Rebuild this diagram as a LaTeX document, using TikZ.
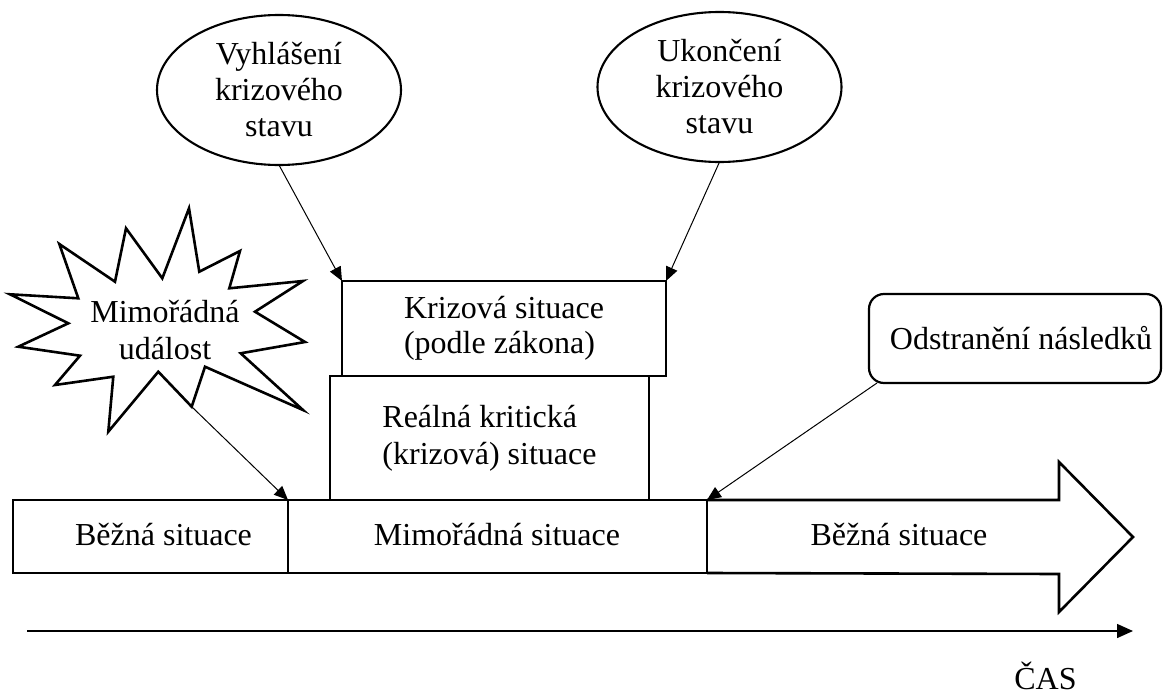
\documentclass[tikz,border=0pt]{standalone}
\usepackage{fontspec}
\setmainfont{Liberation Serif}
\usetikzlibrary{arrows.meta,shapes.geometric,calc}
\begin{document}
\begin{tikzpicture}[x=1pt,y=-1pt,
  every node/.style={font=\fontsize{32}{36}\selectfont, inner sep=0pt, outer sep=0pt},
  box/.style={draw, line width=2.6pt, rectangle},
  oval/.style={draw, ellipse, line width=2.1pt, minimum width=244pt, minimum height=150pt, align=center},
  conn/.style={line width=1pt, -{Triangle[length=14pt,width=12pt]}},
  thickline/.style={line width=2.6pt, line join=miter},
]
\useasboundingbox (0,0) rectangle (1163,696);

% ellipses
\node[oval] (e1) at (279,90) {Vyhlášení\\krizového\\stavu};
\node[oval] (e2) at (719.5,87) {Ukončení\\krizového\\stavu};

% stacked boxes
\node[box, minimum width=324pt, minimum height=95pt, align=left,
      font=\fontsize{32}{35}\selectfont] (k) at (504,328.5) {Krizová situace\\(podle zákona)};
\node[box, minimum width=319pt, minimum height=124pt, align=left,
      font=\fontsize{32}{37}\selectfont] (r) at (489.5,438) {Reálná kritická\\(krizová) situace};

% bottom band
\node[box, minimum width=275pt, minimum height=73pt] (b1) at (150.5,536.5) {};
\node[box, minimum width=419pt, minimum height=73pt] (b2) at (497.5,536.5) {};
\draw[thickline] (b2.north east) -- (1059,500) -- (1059,462) -- (1133,537)
  -- (1059,612) -- (1059,574) -- (b2.south east);
\node[anchor=base] (t1) at (163.5,545) {Běžná situace};
\node[anchor=base] (t2) at (497,545) {Mimořádná situace};
\node[anchor=base] (t3) at (899,545) {Běžná situace};

% starburst
\draw[thickline] (189,208.3) -- (199.3,271.7) -- (240,251) -- (229.3,288.3)
  -- (303,281) -- (255,311.7) -- (305,342) -- (240.7,353.3) -- (303,410)
  -- (205,366.7) -- (191.7,406.7) -- (158.3,371.7) -- (108.3,431.7)
  -- (113.3,376.7) -- (55,385) -- (80,355.7) -- (18.3,346.7) -- (68.3,323.3)
  -- (10,294.3) -- (78.3,298.3) -- (59.3,244) -- (115,281.7) -- (126,228.3)
  -- (162.3,278.3) -- cycle;
\coordinate (mtip) at (191.7,406.7);
\node[align=center, font=\fontsize{32}{37}\selectfont] (mu) at (165,330) {Mimořádná\\událost};

% rounded box
\node[draw, rounded corners=15pt, line width=2.2pt, minimum width=292pt,
      minimum height=89pt] (o) at (1015,338.5) {\hspace*{12pt}Odstranění následků};

% connectors
\draw[conn] (e1.south) -- (k.north west);
\draw[conn] (e2.south) -- (k.north east);
\draw[conn] (mtip) -- (b1.north east);
\draw[conn] ($(o.south west)+(8,0)$) -- (b2.north east);

% time axis
\coordinate (a0) at (27,631);
\coordinate (a1) at (1133,631);
\draw[line width=1.5pt, -{Triangle[length=16pt,width=14pt]}] (a0) -- (a1);
\node[anchor=base] (cas) at (1045.5,689) {ČAS};
\end{tikzpicture}
\end{document}
